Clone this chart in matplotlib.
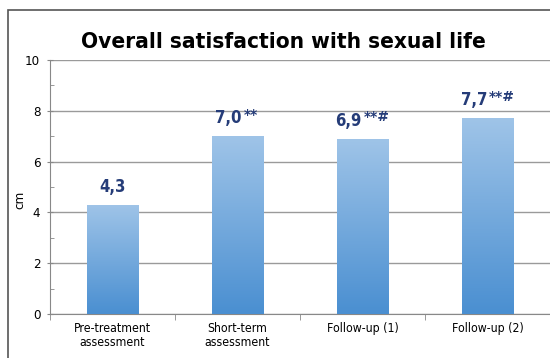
import matplotlib
matplotlib.use("Agg")
import matplotlib.pyplot as plt
import numpy as np
from matplotlib.patches import Rectangle
from matplotlib.colors import LinearSegmentedColormap

categories = ["Pre-treatment\nassessment", "Short-term\nassessment", "Follow-up (1)", "Follow-up (2)"]
values = [4.3, 7.0, 6.9, 7.7]
value_labels = ["4,3", "7,0", "6,9", "7,7"]
sig_marks = ["", "**", "**#", "**#"]
yticks = [0, 2, 4, 6, 8, 10]

plt.rcParams['font.family'] = ["DejaVu Sans"]
plt.rcParams['font.stretch'] = "condensed"

fig = plt.figure(figsize=(5.5, 3.58), dpi=100)
W, H = 550, 358
ax = fig.add_axes([50 / W, 1 - 314 / H, 500 / W, (314 - 60) / H])

x = np.arange(len(categories))
bw = 0.41
cmap = LinearSegmentedColormap.from_list("g", ["#4a8fd1", "#9fc4e8"])
grad = np.linspace(0, 1, 256).reshape(-1, 1)
bars = ax.bar(x, values, width=bw, color="none", zorder=3)
for b in bars:
    x0, y0 = b.get_x(), b.get_y()
    w, h = b.get_width(), b.get_height()
    im = ax.imshow(grad, cmap=cmap, origin="lower", aspect="auto",
                   extent=[x0, x0 + w, y0, y0 + h], zorder=3)
    im.set_clip_path(b)

ax.set_xlim(-0.5, len(categories) - 0.5)
ax.set_ylim(0, 10)
ax.set_yticks(yticks)
ax.set_yticks([1, 3, 5, 7, 9], minor=True)
ax.yaxis.grid(True, color="#9a9a9a", linewidth=1.0, zorder=0)
ax.set_axisbelow(True)
ax.set_xticks(np.arange(len(categories) + 1) - 0.5, minor=True)
ax.set_xticks(x)
ax.set_xticklabels(categories, fontsize=8.8, linespacing=1.05)
ax.tick_params(axis="x", which="major", length=0, pad=6)
ax.tick_params(axis="x", which="minor", length=4, direction="out", color="#888888")
ax.tick_params(axis="y", which="major", length=4, direction="inout", color="#888888", labelsize=9.5, pad=5)
ax.tick_params(axis="y", which="minor", length=3, direction="in", color="#888888")
for s in ["top", "right"]:
    ax.spines[s].set_visible(False)
for s in ["left", "bottom"]:
    ax.spines[s].set_color("#888888")
ax.set_ylabel("cm", fontsize=9.5)
ax.yaxis.set_label_coords(-24 / 500, 0.45)

navy = "#253c78"
for xi, v, lab, sig in zip(x, values, value_labels, sig_marks):
    shift = -len(sig) * 3.3
    t = ax.annotate(lab, xy=(xi, v), xytext=(shift, 6.5), textcoords="offset points",
                    ha="center", va="bottom", fontsize=12, fontweight="bold",
                    color=navy)
    if sig:
        ax.annotate(sig, xy=(1.0, 1.0), xycoords=t, xytext=(1.5, 1), textcoords="offset points",
                    ha="left", va="top", fontsize=10, fontweight="bold", color=navy,
                    fontstretch="normal")

fig.text(283 / W, 1 - 42 / H, "Overall satisfaction with sexual life", ha="center", va="center",
         fontsize=16.2, fontweight="bold", color="black")

border = Rectangle((8 / W, -0.1), 1.2, 1 - 10 / H + 0.1, transform=fig.transFigure,
                   fill=False, edgecolor="#555555", linewidth=1.2)
fig.patches.append(border)

fig.savefig("out.png", dpi=100)
